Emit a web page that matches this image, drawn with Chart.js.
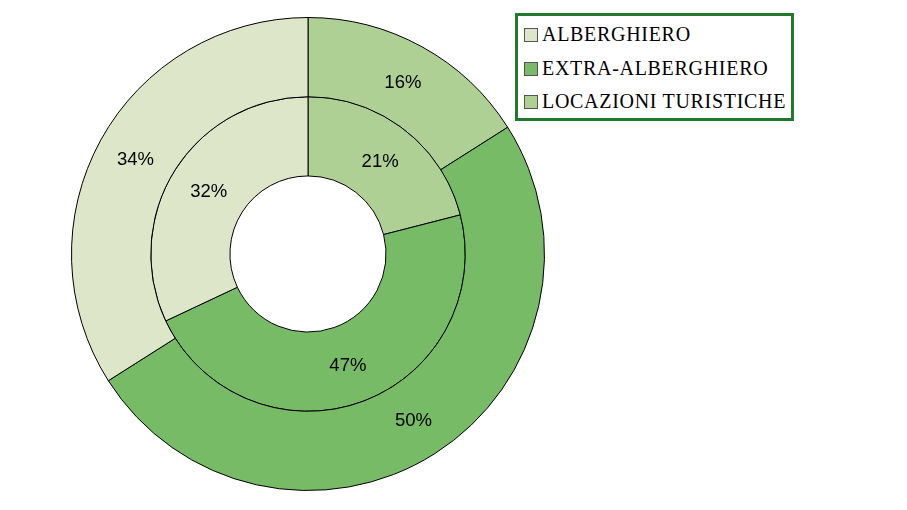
<!DOCTYPE html>
<html>
<head>
<meta charset="utf-8">
<script src="https://cdn.jsdelivr.net/npm/chart.js@4"></script>
<style>
  body { margin: 0; background: #fff; }
  #wrap { position: relative; width: 907px; height: 510px; }
  #legend {
    position: absolute; left: 515px; top: 13px; width: 273px; height: 102px;
    border: 3px solid #217a2c; background: #fff;
    font-family: "Liberation Serif", serif; font-size: 20px; letter-spacing: 0.7px; color: #000;
  }
  #legend div { position: absolute; left: 6px; height: 22px; line-height: 22px; white-space: nowrap; }
  #legend span.box {
    display: inline-block; width: 12px; height: 12px; border: 1px solid #555;
    vertical-align: -1px; margin-right: 4px;
  }
</style>
</head>
<body>
<div id="wrap">
  <canvas id="doughnutChart" width="907" height="510"></canvas>
  <div id="legend"></div>
</div>
<script>
// Kategorijas leģendas secībā
const categories = ['ALBERGHIERO', 'EXTRA-ALBERGHIERO', 'LOCAZIONI TURISTICHE'];
const colors = ['#dde6c9', '#77bb66', '#aed095'];
// Ārējais un iekšējais gredzens (%)
const outerValues = [34, 50, 16];
const innerValues = [32, 47, 21];

// Attēlā segmenti iet pretēji pulksteņrādītājam, tāpēc apgriežam secību
const order = [2, 1, 0];
const pick = arr => order.map(i => arr[i]);

// Procentu uzraksti uz segmentiem
const percentLabels = {
    id: 'percentLabels',
    afterDatasetsDraw(chart) {
        const ctx = chart.ctx;
        ctx.save();
        ctx.font = '18.5px "Liberation Sans", Arial, sans-serif';
        ctx.fillStyle = '#000';
        ctx.textAlign = 'center';
        ctx.textBaseline = 'middle';
        chart.data.datasets.forEach((ds, di) => {
            chart.getDatasetMeta(di).data.forEach((arc, i) => {
                const p = arc.tooltipPosition();
                ctx.fillText(ds.data[i] + '%', p.x, p.y + 1);
            });
        });
        ctx.restore();
    }
};

const ctx = document.getElementById('doughnutChart').getContext('2d');
new Chart(ctx, {
    type: 'doughnut',
    data: {
        labels: pick(categories),
        datasets: [
            {
                data: pick(outerValues),
                backgroundColor: pick(colors),
                borderColor: '#000',
                borderWidth: 1
            },
            {
                data: pick(innerValues),
                backgroundColor: pick(colors),
                borderColor: '#000',
                borderWidth: 1
            }
        ]
    },
    options: {
        responsive: false,
        animation: false,
        cutout: '33%',
        layout: { padding: { left: 71, right: 362, top: 17, bottom: 19 } },
        plugins: {
            legend: { display: false },
            tooltip: { enabled: false }
        }
    },
    plugins: [percentLabels]
});

// Leģenda
const legend = document.getElementById('legend');
categories.forEach((name, i) => {
    const row = document.createElement('div');
    row.style.top = (7 + i * 33.5) + 'px';
    const box = document.createElement('span');
    box.className = 'box';
    box.style.background = colors[i];
    row.appendChild(box);
    row.appendChild(document.createTextNode(name));
    legend.appendChild(row);
});
</script>
</body>
</html>
